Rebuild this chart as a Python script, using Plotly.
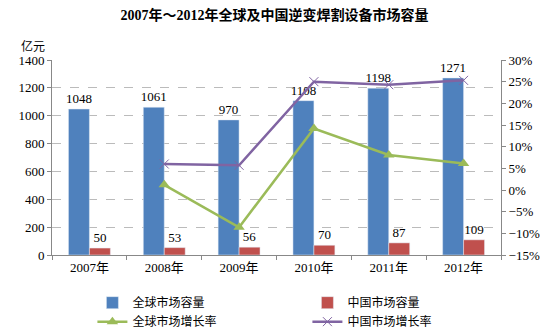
import plotly.graph_objects as go

years = ["2007年", "2008年", "2009年", "2010年", "2011年", "2012年"]
global_cap = [1048, 1061, 970, 1108, 1198, 1271]
china_cap = [50, 53, 56, 70, 87, 109]
global_growth = [None, 1.2, -8.6, 14.2, 8.1, 6.1]
china_growth = [None, 6.0, 5.7, 25.0, 24.3, 25.3]

FONT = "Liberation Serif, Noto Sans CJK SC, serif"

fig = go.Figure()
fig.add_trace(go.Bar(x=years, y=global_cap, name="全球市场容量", marker_color="#4F81BD",
                     text=global_cap, textposition="outside", textfont=dict(size=13, color="#000"),
                     constraintext="none", cliponaxis=False))
fig.add_trace(go.Bar(x=years, y=china_cap, name="中国市场容量", marker_color="#C0504D",
                     text=china_cap, textposition="outside", textfont=dict(size=13, color="#000"),
                     constraintext="none", cliponaxis=False))
fig.add_trace(go.Scatter(x=years, y=global_growth, name="全球市场增长率", yaxis="y2",
                         mode="lines+markers", line=dict(color="#9BBB59", width=2.5),
                         marker=dict(symbol="triangle-up", size=10, color="#9BBB59")))
fig.add_trace(go.Scatter(x=years, y=china_growth, name="中国市场增长率", yaxis="y2",
                         mode="lines+markers", line=dict(color="#8064A2", width=2.5),
                         marker=dict(symbol="x-thin-open", size=9, line=dict(color="#A99BC9", width=1))))

fig.update_layout(
    width=549, height=335,
    margin=dict(l=52, r=48, t=60, b=80, autoexpand=False),
    paper_bgcolor="white", plot_bgcolor="white",
    font=dict(family=FONT, size=13, color="#000"),
    title=dict(text="<b>2007年～2012年全球及中国逆变焊割设备市场容量</b>", x=0.5, xanchor="center",
               y=0.955, yanchor="middle", font=dict(size=14, family=FONT)),
    barmode="group", bargap=0.44, bargroupgap=0,
    showlegend=True,
    legend=dict(orientation="h", x=0.09, y=-0.17, xanchor="left", yanchor="top",
                entrywidth=170, entrywidthmode="pixels", font=dict(size=12, family=FONT),
                tracegroupgap=0, itemwidth=30, bgcolor="rgba(0,0,0,0)"),
    xaxis=dict(type="category", showline=True, linecolor="#888", ticks="outside", tickson="boundaries",
               ticklen=4, tickcolor="#888", showgrid=False, tickfont=dict(size=13)),
    yaxis=dict(range=[0, 1400], dtick=200, showline=True, linecolor="#888", ticks="outside",
               ticklen=4, tickcolor="#888", gridcolor="#BBB", griddash="dash", gridwidth=1,
               zeroline=False, tickfont=dict(size=13)),
    yaxis2=dict(range=[-15, 30], dtick=5, overlaying="y", side="right", showline=True, linecolor="#888",
                ticks="outside", ticklen=4, tickcolor="#888", showgrid=False, zeroline=False,
                ticksuffix="%", tickfont=dict(size=13)),
    annotations=[dict(text="亿元", x=0.0, y=1.0, xref="paper", yref="paper", xanchor="right",
                      yanchor="bottom", xshift=-5, yshift=4, showarrow=False, font=dict(size=12))],
)

fig.write_html("out.html")
